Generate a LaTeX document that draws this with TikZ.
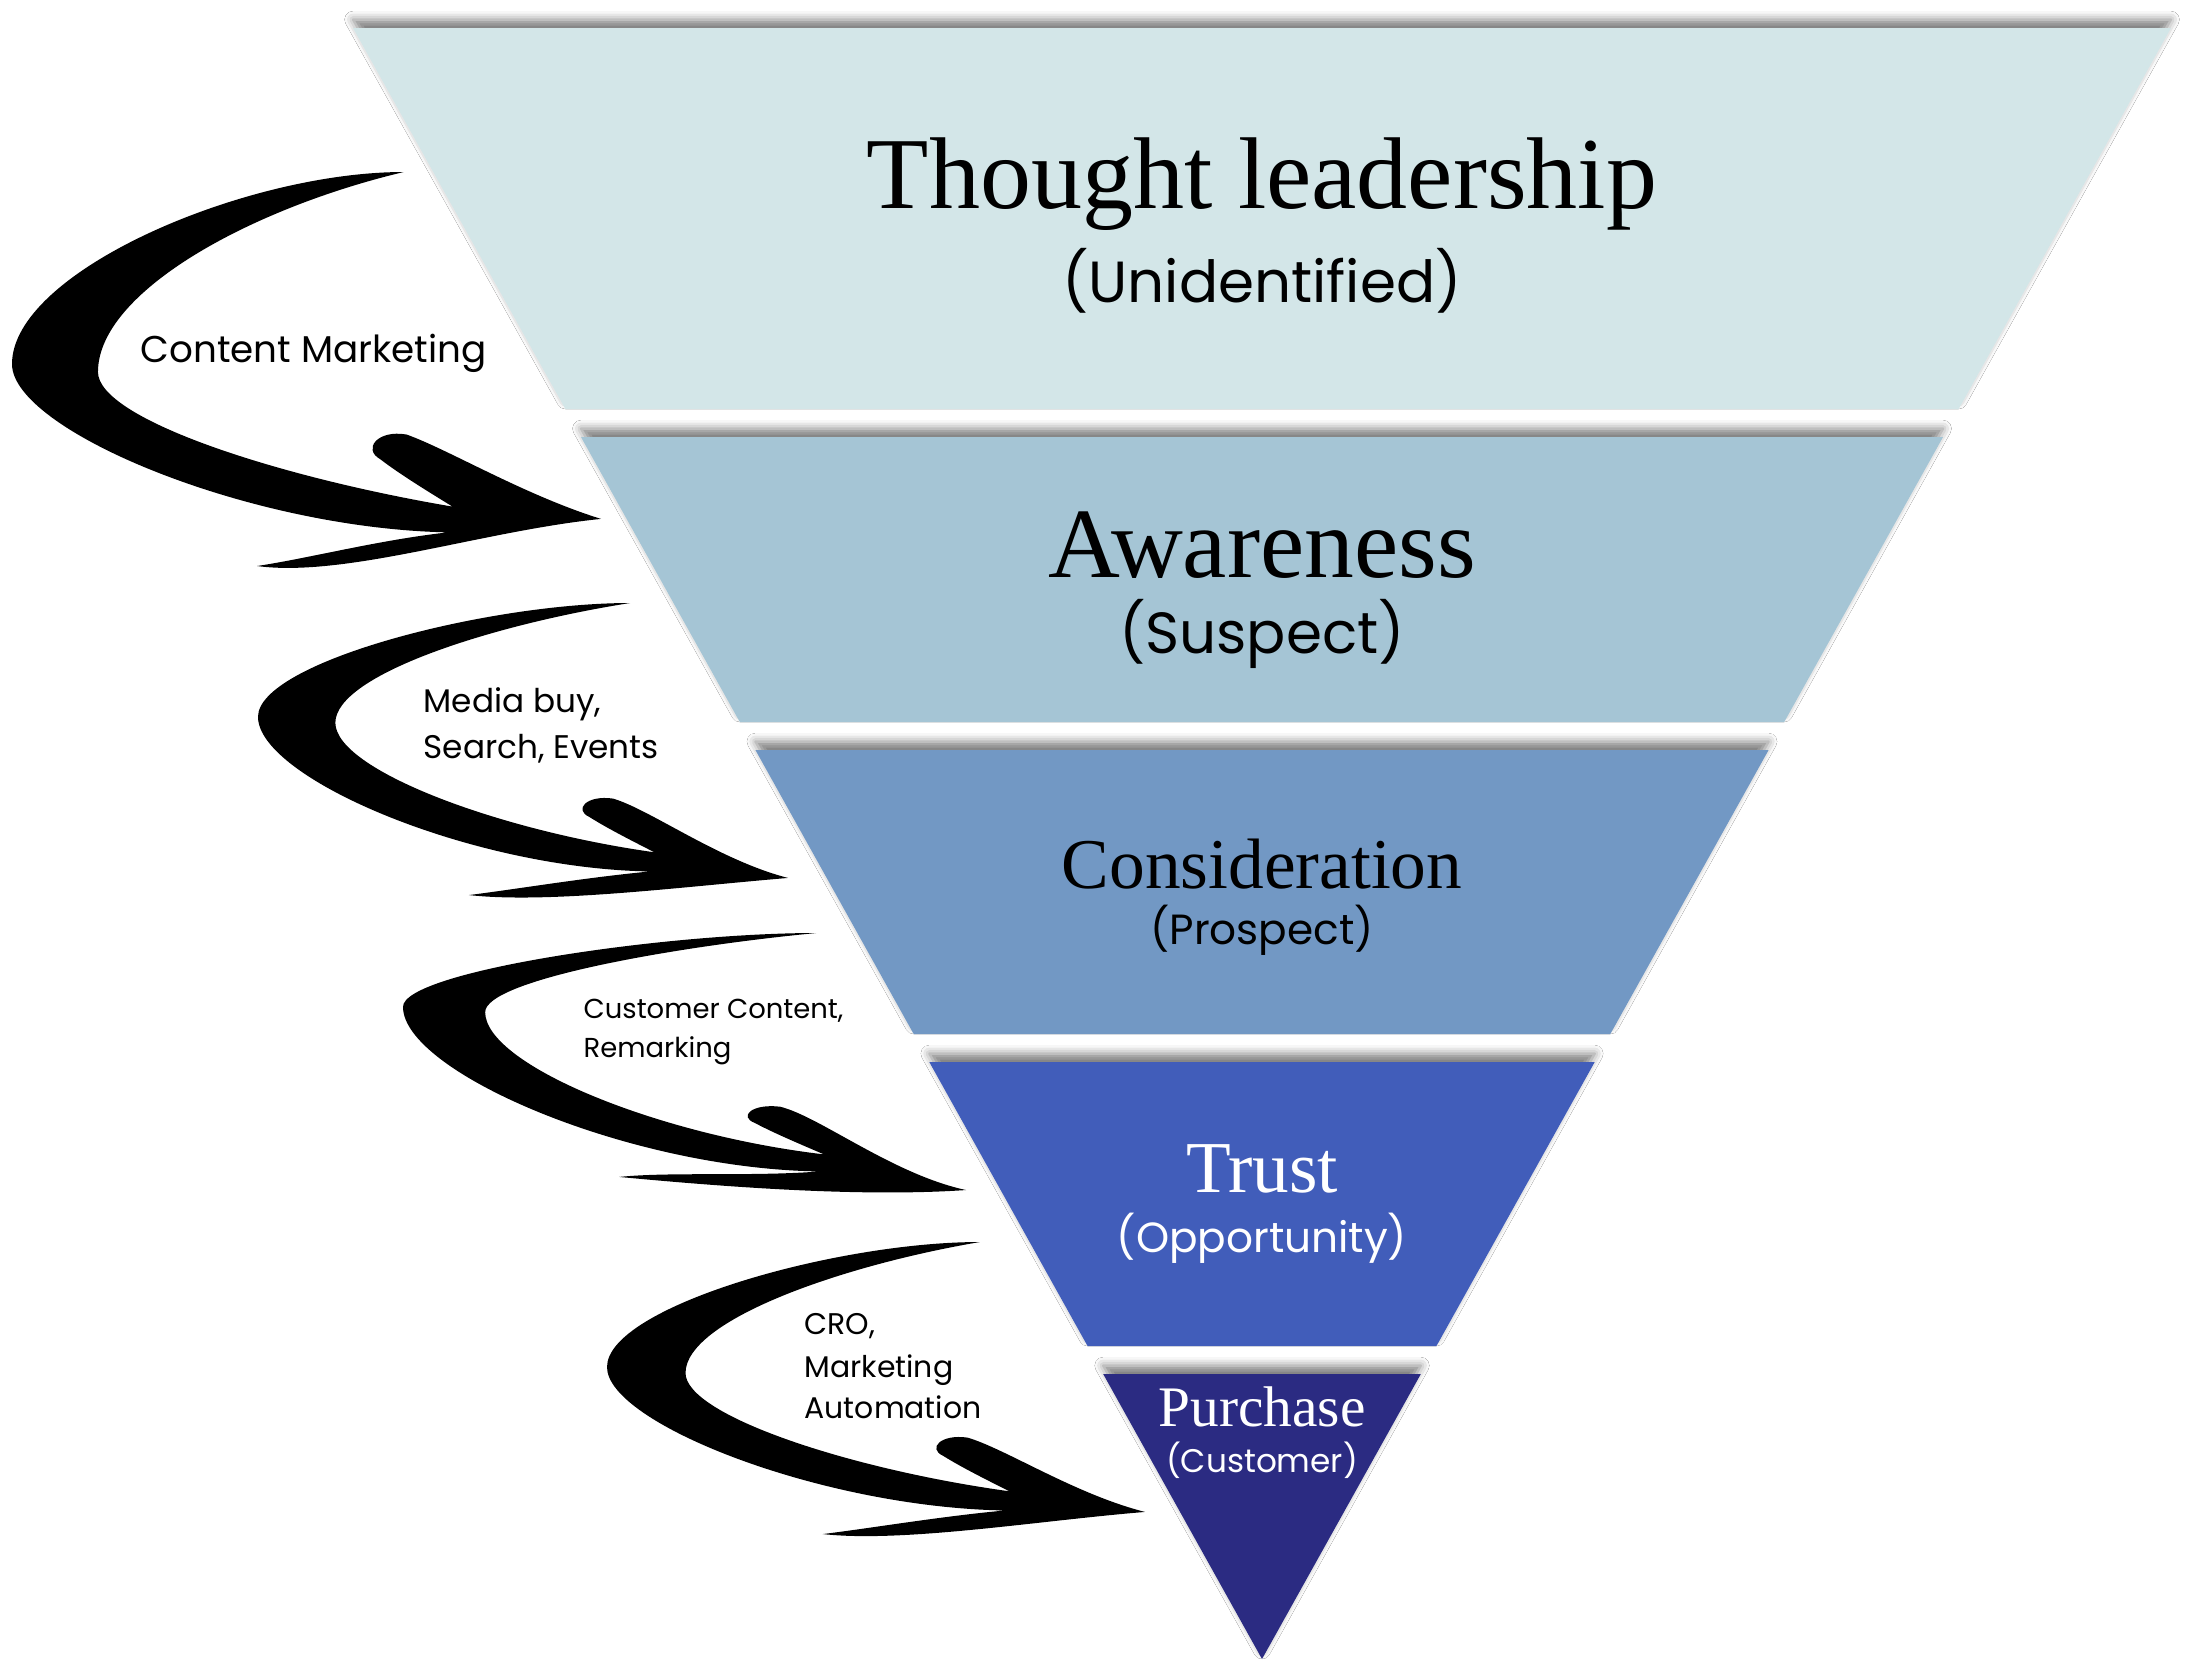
\documentclass[tikz,border=0pt]{standalone}
\usepackage{fontspec}
\setmainfont{Liberation Serif}
\newfontfamily\poppins{Poppins}
\usetikzlibrary{shadows.blur}
\definecolor{leadcol}{HTML}{D3E6E8}
\definecolor{awarecol}{HTML}{A5C5D5}
\definecolor{considcol}{HTML}{7298C4}
\definecolor{trustcol}{HTML}{415DBA}
\definecolor{buycol}{HTML}{2B2B82}
\tikzset{band/.style={blur shadow={shadow xshift=0pt,shadow yshift=2.4pt,shadow blur radius=2.4pt,shadow opacity=50}},
  stage/.style={anchor=base,inner sep=0pt,font=\fontsize{#1}{#1}\selectfont},
  sub/.style={anchor=base,inner sep=0pt,font=\poppins\fontsize{#1}{#1}\selectfont},
  note/.style={anchor=base west,inner sep=0pt,font=\poppins\fontsize{#1}{#1}\selectfont}}
% brush arrow in a unit box: #1 top tip u, #2 leftmost v, #3 head tip v, #4/#5 lower barb end
\newcommand{\swoosh}[5]{%
  \fill (#1,0) .. controls ({#1-0.27},0) and (0,{#2*0.52}) .. (0,#2)
    .. controls (0,{#2+(0.9-#2)*0.4}) and (0.40,0.90) .. (0.74,0.91)
    .. controls (0.62,0.93) and ({#4+0.09},{#5-0.02}) .. (#4,#5)
    .. controls ({#4+0.15},{#5+0.03}) and (0.8,{#3+0.03}) .. (1,#3)
    .. controls (0.87,{#3-0.06}) and (0.74,0.70) .. (0.67,0.663)
    .. controls (0.62,0.65) and (0.595,0.70) .. (0.625,0.725)
    .. controls (0.66,0.765) and (0.71,0.81) .. (0.748,0.845)
    .. controls (0.45,0.77) and (0.146,{#2+(0.83-#2)*0.4}) .. (0.146,{#2+0.02})
    .. controls (0.146,{(#2+0.02)*0.6}) and ({#1-0.26},{#2*0.19}) .. (#1,0) -- cycle;}

\begin{document}
\begin{tikzpicture}[x=0.01cm,y=-0.01cm]
  \fill[white] (0,0) rectangle (2191,1678);
  \useasboundingbox (0,0) rectangle (2191,1678);
  % funnel
  \foreach \ya/\yb/\col in {28/409/leadcol,437/722/awarecol,750/1034/considcol,1062/1346/trustcol,1374/1659/buycol}
    \fill[\col,band] ({1262-(1659-\ya)*0.5573},\ya) -- ({1262+(1659-\ya)*0.5573},\ya) -- ({1262+(1659-\yb)*0.5573},\yb) -- ({1262-(1659-\yb)*0.5573},\yb) -- cycle;
  % arrows
  \begin{scope}[shift={(12,172)},xscale=589,yscale=396] \swoosh{0.665}{0.485}{0.876}{0.416}{0.995} \end{scope}
  \begin{scope}[shift={(258,603)},xscale=530,yscale=295] \swoosh{0.702}{0.386}{0.932}{0.398}{0.99} \end{scope}
  \begin{scope}[shift={(403,933)},xscale=563,yscale=262] \swoosh{0.734}{0.282}{0.981}{0.384}{0.931} \end{scope}
  \begin{scope}[shift={(607,1242)},xscale=538,yscale=295] \swoosh{0.693}{0.424}{0.915}{0.401}{0.99} \end{scope}
  % stages
  \node[stage=29] (lead) at (1262,208) {Thought leadership};
  \node[sub=16.5] (leadsub) at (1262,302) {(Unidentified)};
  \node[stage=28.3] (aware) at (1262,577) {Awareness};
  \node[sub=16.5] (awaresub) at (1262,653) {(Suspect)};
  \node[stage=20.3] (consid) at (1262,888) {Consideration};
  \node[sub=12] (considsub) at (1262,944) {(Prospect)};
  \node[stage=20.8,text=white] (trust) at (1262,1192) {Trust};
  \node[sub=12,text=white] (trustsub) at (1262,1252) {(Opportunity)};
  \node[stage=16.3,text=white] (buy) at (1262,1426) {Purchase};
  \node[sub=9.3,text=white] (buysub) at (1262,1472) {(Customer)};
  % tactics
  \node[note=10.6] (content) at (140,362) {Content Marketing};
  \node[note=9.3] (media) at (423,712) {Media buy,};
  \node[note=9.3] (search) at (423,758) {Search, Events};
  \node[note=7.8] (custom) at (583,1018) {Customer Content,};
  \node[note=7.8] (remark) at (583,1057) {Remarking};
  \node[note=8.5] (cro) at (804,1334) {CRO,};
  \node[note=8.5] (mkt) at (804,1377) {Marketing};
  \node[note=8.5] (auto) at (804,1418) {Automation};
\end{tikzpicture}
\end{document}
